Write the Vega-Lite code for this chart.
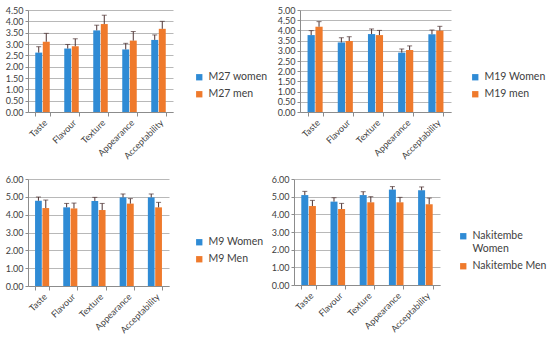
{
  "$schema": "https://vega.github.io/schema/vega-lite/v6.json",
  "background": "white",
  "padding": {"left": 5, "top": 6, "right": 2, "bottom": 5},
  "config": {
    "font": "Lato",
    "view": {"stroke": null},
    "axis": {"labelFontSize": 9, "labelColor": "#404040", "domainColor": "#8c8c8c", "tickColor": "#8c8c8c", "gridColor": "#b8b8b8", "labelFont": "Lato", "labelOverlap": false},
    "legend": {"labelFontSize": 10.5, "labelColor": "#404040", "symbolType": "square", "symbolSize": 40, "symbolStrokeWidth": 0, "rowPadding": 6, "labelFont": "Lato"}
  },
  "datasets": {
    "m27": [
      {"attr": "Taste", "series": "M27 women", "mean": 2.62, "upper": 2.88},
      {"attr": "Taste", "series": "M27 men", "mean": 3.10, "upper": 3.47},
      {"attr": "Flavour", "series": "M27 women", "mean": 2.80, "upper": 2.98},
      {"attr": "Flavour", "series": "M27 men", "mean": 2.90, "upper": 3.23},
      {"attr": "Texture", "series": "M27 women", "mean": 3.60, "upper": 3.83},
      {"attr": "Texture", "series": "M27 men", "mean": 3.88, "upper": 4.27},
      {"attr": "Appearance", "series": "M27 women", "mean": 2.76, "upper": 3.03},
      {"attr": "Appearance", "series": "M27 men", "mean": 3.15, "upper": 3.55},
      {"attr": "Acceptability", "series": "M27 women", "mean": 3.18, "upper": 3.40},
      {"attr": "Acceptability", "series": "M27 men", "mean": 3.67, "upper": 4.00}
    ],
    "m19": [
      {"attr": "Taste", "series": "M19 Women", "mean": 3.77, "upper": 3.99},
      {"attr": "Taste", "series": "M19 men", "mean": 4.18, "upper": 4.43},
      {"attr": "Flavour", "series": "M19 Women", "mean": 3.41, "upper": 3.64},
      {"attr": "Flavour", "series": "M19 men", "mean": 3.48, "upper": 3.69},
      {"attr": "Texture", "series": "M19 Women", "mean": 3.82, "upper": 4.07},
      {"attr": "Texture", "series": "M19 men", "mean": 3.77, "upper": 4.00},
      {"attr": "Appearance", "series": "M19 Women", "mean": 2.91, "upper": 3.09},
      {"attr": "Appearance", "series": "M19 men", "mean": 3.04, "upper": 3.24},
      {"attr": "Acceptability", "series": "M19 Women", "mean": 3.81, "upper": 4.02},
      {"attr": "Acceptability", "series": "M19 men", "mean": 3.99, "upper": 4.20}
    ],
    "m9": [
      {"attr": "Taste", "series": "M9 Women", "mean": 4.78, "upper": 4.99},
      {"attr": "Taste", "series": "M9 Men", "mean": 4.37, "upper": 4.82},
      {"attr": "Flavour", "series": "M9 Women", "mean": 4.41, "upper": 4.63},
      {"attr": "Flavour", "series": "M9 Men", "mean": 4.35, "upper": 4.65},
      {"attr": "Texture", "series": "M9 Women", "mean": 4.77, "upper": 4.97},
      {"attr": "Texture", "series": "M9 Men", "mean": 4.26, "upper": 4.63},
      {"attr": "Appearance", "series": "M9 Women", "mean": 4.97, "upper": 5.16},
      {"attr": "Appearance", "series": "M9 Men", "mean": 4.62, "upper": 4.90},
      {"attr": "Acceptability", "series": "M9 Women", "mean": 4.97, "upper": 5.16},
      {"attr": "Acceptability", "series": "M9 Men", "mean": 4.41, "upper": 4.69}
    ],
    "nak": [
      {"attr": "Taste", "series": "Nakitembe Women", "mean": 5.09, "upper": 5.30},
      {"attr": "Taste", "series": "Nakitembe Men", "mean": 4.47, "upper": 4.79},
      {"attr": "Flavour", "series": "Nakitembe Women", "mean": 4.72, "upper": 4.94},
      {"attr": "Flavour", "series": "Nakitembe Men", "mean": 4.30, "upper": 4.62},
      {"attr": "Texture", "series": "Nakitembe Women", "mean": 5.09, "upper": 5.28},
      {"attr": "Texture", "series": "Nakitembe Men", "mean": 4.68, "upper": 5.00},
      {"attr": "Appearance", "series": "Nakitembe Women", "mean": 5.40, "upper": 5.57},
      {"attr": "Appearance", "series": "Nakitembe Men", "mean": 4.68, "upper": 4.96},
      {"attr": "Acceptability", "series": "Nakitembe Women", "mean": 5.36, "upper": 5.55},
      {"attr": "Acceptability", "series": "Nakitembe Men", "mean": 4.57, "upper": 4.92}
    ]
  },
  "spacing": 14,
  "resolve": {"scale": {"color": "independent", "y": "independent", "x": "independent", "xOffset": "independent"}, "axis": {"x": "independent", "y": "independent"}, "legend": {"color": "independent"}},
  "vconcat": [
    {
      "spacing": 9,
      "resolve": {"scale": {"color": "independent", "y": "independent", "x": "independent", "xOffset": "independent"}, "axis": {"x": "independent", "y": "independent"}, "legend": {"color": "independent"}},
      "hconcat": [
        {
          "width": 145, "height": 102,
          "data": {"name": "m27"},
          "encoding": {
            "x": {"field": "attr", "type": "nominal", "sort": ["Taste", "Flavour", "Texture", "Appearance", "Acceptability"], "title": null, "scale": {"type": "band", "paddingInner": 0.5, "paddingOuter": 0.25}, "axis": {"labelAngle": -45, "tickBand": "extent", "tickSize": 4}},
            "xOffset": {"field": "series", "type": "nominal", "sort": ["M27 women", "M27 men"], "scale": {"type": "band", "paddingInner": 0.08, "paddingOuter": 0}}
          },
          "layer": [
            {"mark": {"type": "bar"}, "encoding": {
              "y": {"field": "mean", "type": "quantitative", "title": null, "scale": {"domain": [0, 4.5], "nice": false}, "axis": {"values": [0, 0.5, 1, 1.5, 2, 2.5, 3, 3.5, 4, 4.5], "format": ".2f", "tickSize": 3}},
              "color": {"field": "series", "type": "nominal", "sort": ["M27 women", "M27 men"], "scale": {"domain": ["M27 women", "M27 men"], "range": ["#2f8bd5", "#ef7a2c"]}, "legend": {"title": null, "orient": "none", "legendX": 166, "legendY": 62}}}},
            {"mark": {"type": "rule", "color": "#4d3333"}, "encoding": {"y": {"field": "mean", "type": "quantitative", "title": null, "axis": {"values": [0, 0.5, 1, 1.5, 2, 2.5, 3, 3.5, 4, 4.5], "format": ".2f", "tickSize": 3}}, "y2": {"field": "upper"}}},
            {"mark": {"type": "tick", "color": "#4d3333", "size": 5, "thickness": 1}, "encoding": {"y": {"field": "upper", "type": "quantitative", "title": null, "axis": {"values": [0, 0.5, 1, 1.5, 2, 2.5, 3, 3.5, 4, 4.5], "format": ".2f", "tickSize": 3}}}}
          ]
        },
        {
          "width": 151, "height": 102,
          "data": {"name": "m19"},
          "encoding": {
            "x": {"field": "attr", "type": "nominal", "sort": ["Taste", "Flavour", "Texture", "Appearance", "Acceptability"], "title": null, "scale": {"type": "band", "paddingInner": 0.5, "paddingOuter": 0.25}, "axis": {"labelAngle": -45, "tickBand": "extent", "tickSize": 4}},
            "xOffset": {"field": "series", "type": "nominal", "sort": ["M19 Women", "M19 men"], "scale": {"type": "band", "paddingInner": 0.08, "paddingOuter": 0}}
          },
          "layer": [
            {"mark": {"type": "bar"}, "encoding": {
              "y": {"field": "mean", "type": "quantitative", "title": null, "scale": {"domain": [0, 5], "nice": false}, "axis": {"values": [0, 0.5, 1, 1.5, 2, 2.5, 3, 3.5, 4, 4.5, 5], "format": ".2f", "tickSize": 3}},
              "color": {"field": "series", "type": "nominal", "sort": ["M19 Women", "M19 men"], "scale": {"domain": ["M19 Women", "M19 men"], "range": ["#2f8bd5", "#ef7a2c"]}, "legend": {"title": null, "orient": "none", "legendX": 170, "legendY": 62}}}},
            {"mark": {"type": "rule", "color": "#4d3333"}, "encoding": {"y": {"field": "mean", "type": "quantitative", "title": null, "axis": {"values": [0, 0.5, 1, 1.5, 2, 2.5, 3, 3.5, 4, 4.5, 5], "format": ".2f", "tickSize": 3}}, "y2": {"field": "upper"}}},
            {"mark": {"type": "tick", "color": "#4d3333", "size": 5, "thickness": 1}, "encoding": {"y": {"field": "upper", "type": "quantitative", "title": null, "axis": {"values": [0, 0.5, 1, 1.5, 2, 2.5, 3, 3.5, 4, 4.5, 5], "format": ".2f", "tickSize": 3}}}}
          ]
        }
      ]
    },
    {
      "spacing": 7,
      "resolve": {"scale": {"color": "independent", "y": "independent", "x": "independent", "xOffset": "independent"}, "axis": {"x": "independent", "y": "independent"}, "legend": {"color": "independent"}},
      "hconcat": [
        {
          "width": 141, "height": 107,
          "data": {"name": "m9"},
          "encoding": {
            "x": {"field": "attr", "type": "nominal", "sort": ["Taste", "Flavour", "Texture", "Appearance", "Acceptability"], "title": null, "scale": {"type": "band", "paddingInner": 0.5, "paddingOuter": 0.25}, "axis": {"labelAngle": -45, "tickBand": "extent", "tickSize": 4}},
            "xOffset": {"field": "series", "type": "nominal", "sort": ["M9 Women", "M9 Men"], "scale": {"type": "band", "paddingInner": 0.08, "paddingOuter": 0}}
          },
          "layer": [
            {"mark": {"type": "bar"}, "encoding": {
              "y": {"field": "mean", "type": "quantitative", "title": null, "scale": {"domain": [0, 6], "nice": false}, "axis": {"values": [0, 1, 2, 3, 4, 5, 6], "format": ".2f", "tickSize": 3}},
              "color": {"field": "series", "type": "nominal", "sort": ["M9 Women", "M9 Men"], "scale": {"domain": ["M9 Women", "M9 Men"], "range": ["#2f8bd5", "#ef7a2c"]}, "legend": {"title": null, "orient": "none", "legendX": 166, "legendY": 58}}}},
            {"mark": {"type": "rule", "color": "#4d3333"}, "encoding": {"y": {"field": "mean", "type": "quantitative", "title": null, "axis": {"values": [0, 1, 2, 3, 4, 5, 6], "format": ".2f", "tickSize": 3}}, "y2": {"field": "upper"}}},
            {"mark": {"type": "tick", "color": "#4d3333", "size": 5, "thickness": 1}, "encoding": {"y": {"field": "upper", "type": "quantitative", "title": null, "axis": {"values": [0, 1, 2, 3, 4, 5, 6], "format": ".2f", "tickSize": 3}}}}
          ]
        },
        {
          "width": 146, "height": 106,
          "data": {"name": "nak"},
          "encoding": {
            "x": {"field": "attr", "type": "nominal", "sort": ["Taste", "Flavour", "Texture", "Appearance", "Acceptability"], "title": null, "scale": {"type": "band", "paddingInner": 0.5, "paddingOuter": 0.25}, "axis": {"labelAngle": -45, "tickBand": "extent", "tickSize": 4}},
            "xOffset": {"field": "series", "type": "nominal", "sort": ["Nakitembe Women", "Nakitembe Men"], "scale": {"type": "band", "paddingInner": 0.08, "paddingOuter": 0}}
          },
          "layer": [
            {"mark": {"type": "bar"}, "encoding": {
              "y": {"field": "mean", "type": "quantitative", "title": null, "scale": {"domain": [0, 6], "nice": false}, "axis": {"values": [0, 1, 2, 3, 4, 5, 6], "format": ".2f", "tickSize": 3}},
              "color": {"field": "series", "type": "nominal", "sort": ["Nakitembe Women", "Nakitembe Men"], "scale": {"domain": ["Nakitembe Women", "Nakitembe Men"], "range": ["#2f8bd5", "#ef7a2c"]}, "legend": {"title": null, "orient": "none", "legendX": 164, "legendY": 52, "labelExpr": "datum.label == 'Nakitembe Women' ? ['Nakitembe', 'Women'] : datum.label"}}}},
            {"mark": {"type": "rule", "color": "#4d3333"}, "encoding": {"y": {"field": "mean", "type": "quantitative", "title": null, "axis": {"values": [0, 1, 2, 3, 4, 5, 6], "format": ".2f", "tickSize": 3}}, "y2": {"field": "upper"}}},
            {"mark": {"type": "tick", "color": "#4d3333", "size": 5, "thickness": 1}, "encoding": {"y": {"field": "upper", "type": "quantitative", "title": null, "axis": {"values": [0, 1, 2, 3, 4, 5, 6], "format": ".2f", "tickSize": 3}}}}
          ]
        }
      ]
    }
  ]
}
